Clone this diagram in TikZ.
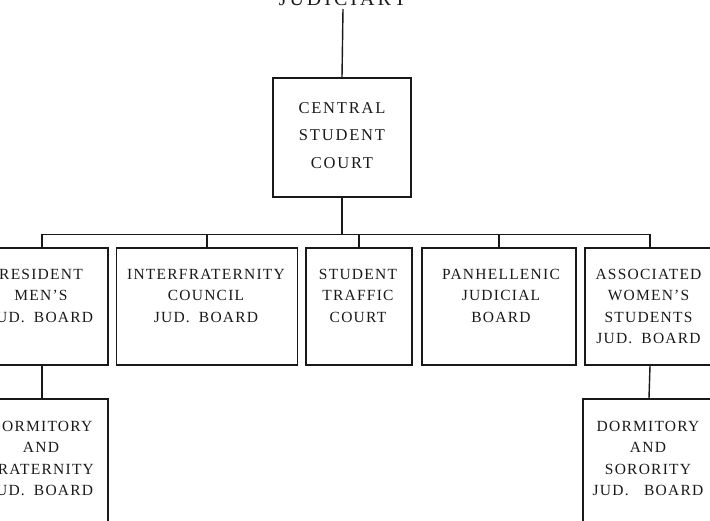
\documentclass[tikz,border=0pt]{standalone}
\usepackage{fontspec}
\newfontfamily\rowfont[LetterSpace=8]{Liberation Serif}
\newfontfamily\ctrfont[LetterSpace=11]{Liberation Serif}
\newfontfamily\ttlfont[LetterSpace=15]{Liberation Serif}
\begin{document}
\begin{tikzpicture}[x=1pt,y=-1pt]
\tikzset{
  frame/.style={draw=black!90, line width=1.4pt, rectangle, inner sep=0pt},
  rowtxt/.style={anchor=north, inner sep=0pt, align=center, text=black!90,
    font=\rowfont\fontsize{15.5pt}{21.5pt}\selectfont},
  ctrtxt/.style={anchor=north, inner sep=0pt, align=center, text=black!90,
    font=\ctrfont\fontsize{16.5pt}{27.5pt}\selectfont},
  link/.style={line width=1.4pt, draw=black!90},
}
\useasboundingbox (0,0) rectangle (710,520);
\clip (0,0) rectangle (710,520);

% title (cut off by the page edge, as in the scan)
\node[anchor=base, inner sep=0pt, text=black!90, font=\ttlfont\fontsize{20pt}{24pt}\selectfont] (title) at (343,5) {JUDICIARY};
\coordinate (ttop) at (343,9);

% boxes
\node[frame, minimum width=138pt, minimum height=119pt] (csc) at (342,137.5) {};
\node[frame, minimum width=132pt, minimum height=117pt] (b1) at (42,306.5) {};
\node[frame, minimum width=180.7pt, minimum height=117pt] (b2) at (207,306.5) {};
\node[frame, minimum width=106pt, minimum height=117pt] (b3) at (359,306.5) {};
\node[frame, minimum width=154.3pt, minimum height=117pt] (b4) at (499,306.5) {};
\node[frame, minimum width=130pt, minimum height=117pt] (b5) at (650,306.5) {};
\node[frame, minimum width=132pt, minimum height=146pt] (bl) at (42,472) {};
\node[frame, minimum width=132.3pt, minimum height=146pt] (br) at (649,472) {};

% texts
\node[ctrtxt] (tc) at (342,102) {CENTRAL\\STUDENT\\COURT};
\node[rowtxt] (t1) at (41,269) {RESIDENT\\MEN’S\\JUD.\hspace{4pt} BOARD};
\node[rowtxt] (t2) at (206,269) {INTERFRATERNITY\\COUNCIL\\JUD.\hspace{4pt} BOARD};
\node[rowtxt] (t3) at (358,269) {STUDENT\\TRAFFIC\\COURT};
\node[rowtxt] (t4) at (501,269) {PANHELLENIC\\JUDICIAL\\BOARD};
\node[rowtxt] (t5) at (648.5,269) {ASSOCIATED\\WOMEN’S\\STUDENTS\\JUD.\hspace{4pt} BOARD};
\node[rowtxt] (tbl) at (41,421) {DORMITORY\\AND\\FRATERNITY\\JUD.\hspace{4pt} BOARD};
\node[rowtxt] (tbr) at (648,421) {DORMITORY\\AND\\SORORITY\\JUD.\quad BOARD};

% connectors
\draw[link] (ttop) -- (csc.north);
\path (csc.south) ++(0,37) coordinate (hub);
\draw[link] (csc.south) -- (hub);
\draw[link] (b1.north) |- (hub) -| (b5.north);
\foreach \b in {b2,b3,b4} \draw[link] (\b.north) -- (\b.north |- hub);
\draw[link] (b1.south) -- (bl.north);
\draw[link] (b5.south) -- (br.north);
\end{tikzpicture}
\end{document}
